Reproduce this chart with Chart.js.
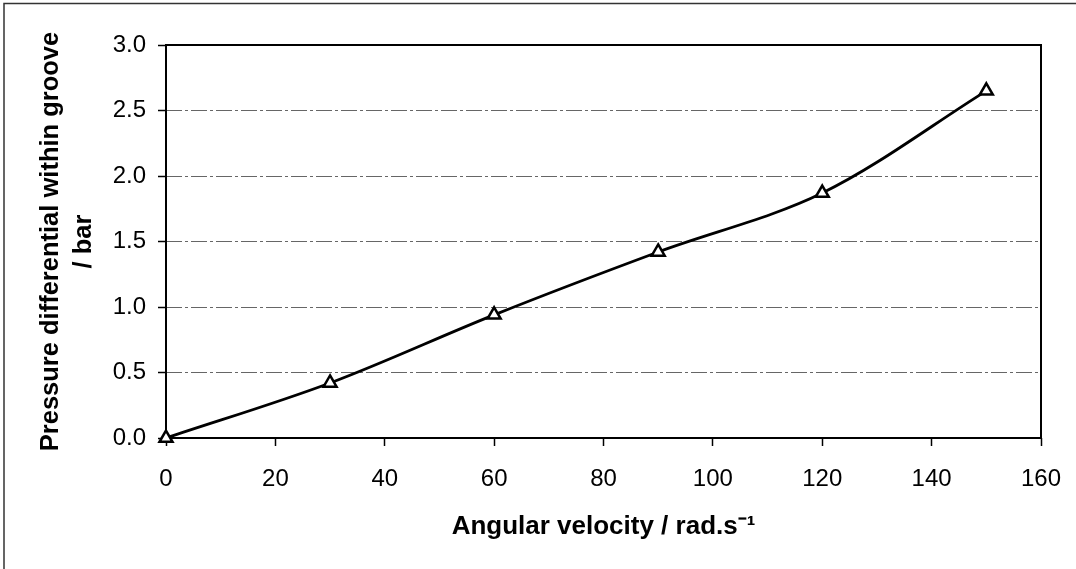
<!DOCTYPE html>
<html>
<head>
<meta charset="utf-8">
<title>Pressure differential within groove vs angular velocity</title>
<script src="https://cdn.jsdelivr.net/npm/chart.js@4/dist/chart.umd.min.js"></script>
<style>
  html, body { margin: 0; padding: 0; background: #fff; }
  #wrap { width: 1076px; height: 569px; position: relative; }
</style>
</head>
<body>
<div id="wrap"><canvas id="chart" width="1076" height="569"></canvas></div>
<script>
// Measured pressure differential across the groove at each angular velocity
const angularVelocity = [0, 30, 60, 90, 120, 150];      // rad.s-1
const pressureDiff    = [0.00, 0.42, 0.94, 1.42, 1.87, 2.65]; // bar

// Axis ranges and tick spacing
const xTicks = { min: 0, max: 160, step: 20 };
const yTicks = { min: 0, max: 3.0, step: 0.5 };

const xTitle = 'Angular velocity / rad.s\u207B\u00B9';
const yTitle = ['Pressure differential within groove', '/ bar'];

const FONT = '"Liberation Sans", Arial, Helvetica, sans-serif';

// Draws the page frame (top and left edges) and the box around the plot area
const framePlugin = {
  id: 'frames',
  beforeDraw(chart) {
    const ctx = chart.ctx;
    ctx.save();
    ctx.strokeStyle = '#333';
    ctx.lineWidth = 1.5;
    ctx.beginPath();
    ctx.moveTo(4, chart.height);
    ctx.lineTo(4, 3.5);
    ctx.lineTo(chart.width, 3.5);
    ctx.stroke();
    ctx.restore();
  },
  beforeDatasetsDraw(chart) {
    const { left, top, right, bottom } = chart.chartArea;
    const ctx = chart.ctx;
    ctx.save();
    ctx.strokeStyle = '#000';
    ctx.lineWidth = 2;
    ctx.strokeRect(left, top, right - left, bottom - top);
    ctx.restore();
  }
};

new Chart(document.getElementById('chart'), {
  type: 'line',
  data: {
    datasets: [{
      data: angularVelocity.map((x, i) => ({ x, y: pressureDiff[i] })),
      borderColor: '#000',
      borderWidth: 2.8,
      tension: 0.33,
      pointStyle: 'triangle',
      pointRadius: 7.5,
      pointBorderWidth: 2.5,
      pointBackgroundColor: '#fff',
      pointBorderColor: '#000',
      clip: false
    }]
  },
  options: {
    responsive: false,
    animation: false,
    layout: { padding: { top: 45, right: 35, left: 0, bottom: 0 } },
    plugins: { legend: { display: false }, tooltip: { enabled: false } },
    scales: {
      x: {
        type: 'linear',
        min: xTicks.min, max: xTicks.max,
        ticks: { stepSize: xTicks.step, color: '#000', padding: 19,
                 font: { family: FONT, size: 24 } },
        grid: { drawOnChartArea: false, drawTicks: true, tickLength: 8,
                tickColor: '#000', tickWidth: 1.5 },
        border: { display: false },
        title: { display: true, text: xTitle, color: '#000',
                 font: { family: FONT, size: 26, weight: 'bold' },
                 padding: { top: 0, bottom: 27 } },
        afterFit(scale) {
          scale.height = 131;
          scale.paddingLeft = 0;
          scale.paddingRight = 0;
        }
      },
      y: {
        type: 'linear',
        min: yTicks.min, max: yTicks.max,
        ticks: { stepSize: yTicks.step, color: '#000', padding: 12,
                 font: { family: FONT, size: 24 },
                 callback: v => Number(v).toFixed(1) },
        grid: { color: '#666', lineWidth: 1, drawTicks: true, tickLength: 8,
                tickColor: '#000', tickWidth: 1.5, tickBorderDash: [] },
        border: { display: false, dash: [16, 3, 3, 3] },
        title: { display: true, text: yTitle, color: '#000',
                 font: { family: FONT, size: 25.5, weight: 'bold', lineHeight: 1.3 },
                 padding: { top: 34, bottom: 0 } },
        afterFit(scale) { scale.width = 166; }
      }
    }
  },
  plugins: [framePlugin]
});
</script>
</body>
</html>
